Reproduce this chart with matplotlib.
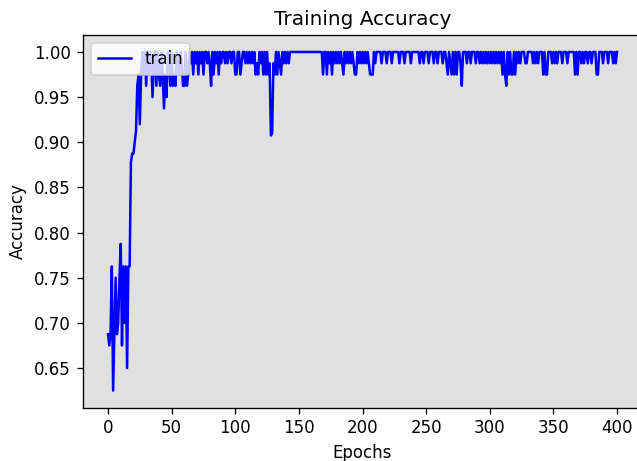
import matplotlib
matplotlib.use("Agg")
import matplotlib.pyplot as plt
import numpy as np

# per-epoch training accuracy (epochs 0..400)
acc_000_099 = [
    0.6875, 0.675, 0.6875, 0.7625, 0.625, 0.6875, 0.75, 0.6875, 0.7, 0.75,
    0.7875, 0.675, 0.7625, 0.7, 0.7625, 0.65, 0.7625, 0.7625, 0.8775, 0.8875,
    0.8875, 0.9, 0.9125, 0.9625, 0.975, 0.92, 0.975, 1.0, 0.975, 1.0,
    0.9625, 1.0, 0.975, 1.0, 0.9875, 0.95, 0.9875, 1.0, 0.9625, 1.0,
    0.975, 0.9625, 1.0, 0.975, 0.9375, 0.975, 0.95, 1.0, 0.9875, 0.9625,
    1.0, 0.9625, 0.975, 0.9625, 1.0, 0.9875, 0.975, 1.0, 0.9875, 0.9625,
    0.9625, 1.0, 0.9625, 0.975, 1.0, 0.9875, 1.0, 0.975, 1.0, 0.9875,
    1.0, 0.975, 1.0, 0.9875, 1.0, 0.975, 1.0, 1.0, 0.9875, 1.0,
    0.9875, 0.9625, 1.0, 0.975, 1.0, 0.9875, 1.0, 0.975, 1.0, 0.9875,
    1.0, 1.0, 0.9875, 1.0, 0.9875, 1.0, 1.0, 0.9875, 1.0, 1.0,
]
acc_100_199 = [
    0.975, 0.975, 1.0, 1.0, 0.975, 0.9875, 1.0, 1.0, 0.9875, 1.0,
    0.9875, 1.0, 0.9875, 1.0, 0.9875, 1.0, 0.975, 0.9875, 0.975, 1.0,
    0.9875, 1.0, 0.975, 1.0, 0.975, 1.0, 0.975, 0.9875, 0.9075, 0.91,
    0.9875, 0.975, 1.0, 0.975, 1.0, 0.9875, 0.975, 1.0, 0.9875, 1.0,
    0.9875, 1.0, 0.9875, 1.0, 1.0, 1.0, 1.0, 1.0, 1.0, 1.0,
    1.0, 1.0, 1.0, 1.0, 1.0, 1.0, 1.0, 1.0, 1.0, 1.0,
    1.0, 1.0, 1.0, 1.0, 1.0, 1.0, 1.0, 1.0, 1.0, 0.975,
    1.0, 1.0, 0.975, 1.0, 0.9875, 1.0, 0.975, 1.0, 0.9875, 1.0,
    0.9875, 1.0, 0.9875, 1.0, 0.9875, 0.975, 1.0, 0.9875, 1.0, 0.9875,
    1.0, 0.9875, 1.0, 0.9875, 0.975, 0.975, 1.0, 0.9875, 1.0, 0.9875,
]
acc_200_299 = [
    1.0, 0.9875, 1.0, 0.9875, 1.0, 0.9875, 0.975, 0.975, 0.975, 1.0,
    0.9875, 1.0, 1.0, 1.0, 1.0, 0.9875, 1.0, 1.0, 1.0, 0.9875,
    1.0, 1.0, 1.0, 0.9875, 1.0, 1.0, 1.0, 1.0, 1.0, 0.9875,
    1.0, 1.0, 1.0, 0.9875, 1.0, 1.0, 1.0, 1.0, 0.9875, 1.0,
    1.0, 1.0, 1.0, 1.0, 1.0, 0.9875, 1.0, 1.0, 0.9875, 1.0,
    1.0, 1.0, 0.9875, 1.0, 1.0, 1.0, 0.9875, 1.0, 1.0, 0.9875,
    1.0, 1.0, 1.0, 0.9875, 1.0, 1.0, 0.9875, 0.975, 1.0, 0.9875,
    0.975, 1.0, 0.975, 1.0, 0.975, 1.0, 1.0, 0.9875, 0.9625, 1.0,
    1.0, 1.0, 0.9875, 1.0, 1.0, 0.9875, 1.0, 1.0, 1.0, 0.9875,
    1.0, 1.0, 0.9875, 1.0, 0.9875, 1.0, 0.9875, 1.0, 0.9875, 1.0,
]
acc_300_400 = [
    0.9875, 1.0, 0.9875, 1.0, 0.9875, 1.0, 0.9875, 1.0, 0.9875, 1.0,
    0.975, 1.0, 0.975, 0.9625, 1.0, 0.975, 1.0, 0.975, 0.975, 1.0,
    0.975, 1.0, 0.9875, 1.0, 0.9875, 1.0, 1.0, 1.0, 0.9875, 0.9875,
    1.0, 1.0, 1.0, 1.0, 0.9875, 1.0, 0.9875, 1.0, 0.9875, 1.0,
    1.0, 1.0, 0.975, 1.0, 0.975, 0.975, 1.0, 1.0, 1.0, 0.9875,
    1.0, 0.9875, 1.0, 0.9875, 1.0, 1.0, 1.0, 0.9875, 1.0, 1.0,
    1.0, 0.9875, 1.0, 1.0, 1.0, 1.0, 1.0, 0.975, 1.0, 0.975,
    1.0, 1.0, 0.9875, 1.0, 0.9875, 1.0, 1.0, 0.9875, 1.0, 1.0,
    0.9875, 1.0, 1.0, 1.0, 0.975, 0.975, 1.0, 1.0, 1.0, 0.9875,
    1.0, 1.0, 1.0, 0.9875, 1.0, 1.0, 1.0, 0.9875, 1.0, 0.9875,
    1.0,
]

acc = np.array(acc_000_099 + acc_100_199 + acc_200_299 + acc_300_400)
epochs = np.arange(len(acc))

fig = plt.figure(figsize=(637 / 120, 461 / 120), dpi=120)
ax = fig.add_axes([0.1296, 0.116, 0.879, 0.808])
ax.set_facecolor("#e0e0e0")
ax.plot(epochs, acc, color="blue", label="train")
ax.set_title("Training Accuracy")
ax.set_xlabel("Epochs")
ax.set_ylabel("Accuracy")
ax.legend(loc="upper left")
fig.savefig("out.png", dpi=120)
